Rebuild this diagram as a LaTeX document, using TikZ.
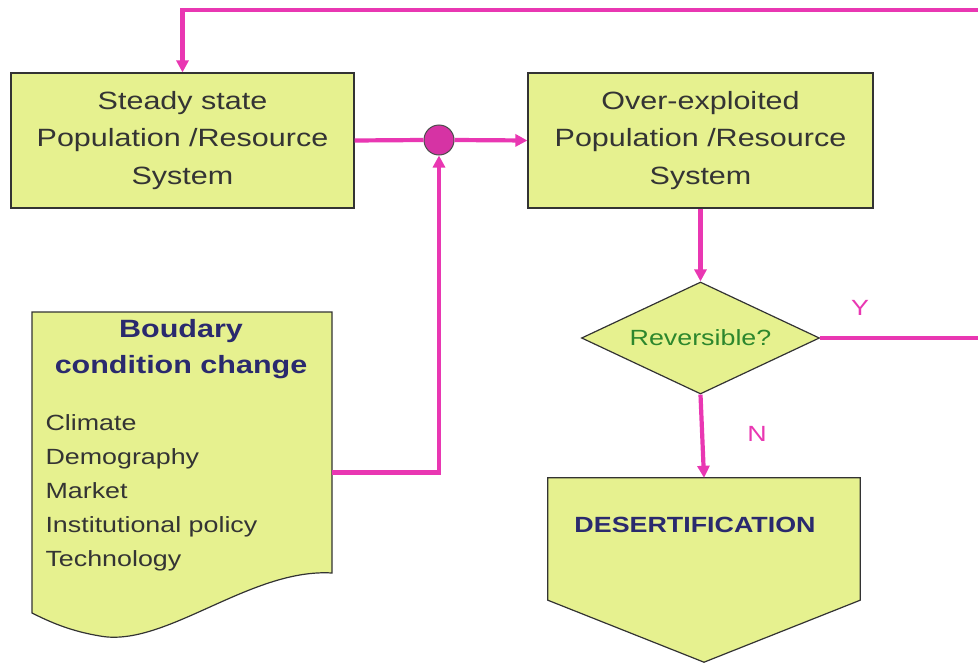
\documentclass[tikz,border=0pt]{standalone}
\usepackage{fontspec}
\setmainfont{Liberation Sans}[FakeStretch=1.22]
\usetikzlibrary{arrows.meta,shapes.geometric}

\definecolor{flowpink}{RGB}{233,55,178}
\definecolor{boxfill}{RGB}{230,241,143}
\definecolor{navytext}{RGB}{42,42,110}
\definecolor{greentext}{RGB}{45,135,45}
\definecolor{bodytext}{RGB}{52,52,52}

\tikzset{
  sysbox/.style={draw=black!80,line width=1.2pt,fill=boxfill,minimum width=343pt,
    minimum height=135pt,inner sep=0pt,text=bodytext,align=center,
    font=\fontsize{25}{37.5}\selectfont},
  link/.style={draw=flowpink,line width=4.2pt},
  flow/.style={link,-{Triangle[length=12pt,width=12pt]}},
  headtext/.style={text=navytext,font=\fontsize{25}{36}\bfseries},
  yesno/.style={text=flowpink,font=\fontsize{22}{26}\selectfont}
}

\begin{document}
\begin{tikzpicture}[x=1pt,y=-1pt]
  \useasboundingbox[fill=white] (0,0) rectangle (978,664);

  % the two system states
  \node[sysbox] (steady) at (182.5,140.5) {Steady state\\Population /Resource\\System};
  \node[sysbox,minimum width=345pt] (overex) at (700.5,140.5) {Over-exploited\\Population /Resource\\System};

  % junction
  \node[circle,draw=black!70,line width=1pt,fill=flowpink!92!black,minimum size=30pt,inner sep=0pt] (mix) at (439,140) {};

  % boundary conditions (document shape)
  \node[minimum width=300pt,minimum height=261pt,inner sep=0pt] (bnd) at (182,442.5) {};
  \filldraw[draw=black!80,line width=1.2pt,fill=boxfill]
    (32,312) -- (332,312) -- (332,573)
    .. controls (250,568) and (165,648) .. (100,636)
    .. controls (70,631) and (50,622) .. (32,613) -- cycle;
  \node[headtext,align=center] (bndhead) at (181,349) {Boudary\\condition change};
  \node[anchor=west,align=left,text=bodytext,font=\fontsize{22}{34}\selectfont] (bnditems) at (42,493)
    {Climate\\Demography\\Market\\Institutional policy\\Technology};

  % decision
  \node[diamond,aspect=2.1,draw=black!80,line width=1.2pt,fill=boxfill,minimum width=238pt,minimum height=112pt,
    inner sep=0pt,text=greentext,font=\fontsize{22}{26}\selectfont] (rev) at (700.5,338) {Reversible?};

  % outcome
  \node[minimum width=312pt,minimum height=122pt,inner sep=0pt] (desert) at (704,539) {};
  \filldraw[draw=black!80,line width=1.2pt,fill=boxfill]
    (desert.north west) -- (desert.north east) -- (desert.south east)
    -- ([yshift=-62pt]desert.south) -- (desert.south west) -- cycle;
  \node[headtext,font=\fontsize{22}{26}\bfseries] (desertlbl) at (695,525) {DESERTIFICATION};

  % connectors
  \coordinate (loopin) at (978,10);
  \coordinate (loopout) at (978,338);
  \draw[flow] (loopin) -| (steady.north);
  \draw[link] (steady.east) -- (mix.west);
  \draw[flow] (mix.east) -- (overex.west);
  \draw[flow] ([yshift=-30pt]bnd.east) -| (mix.south);
  \draw[flow] (overex.south) -- (rev.north);
  \draw[link] (rev.east) -- (loopout);
  \draw[flow] (rev.south) -- (desert.north);

  % labels
  \node[yesno] (yes) at (860,308) {Y};
  \node[yesno] (no) at (757,434) {N};
\end{tikzpicture}
\end{document}
